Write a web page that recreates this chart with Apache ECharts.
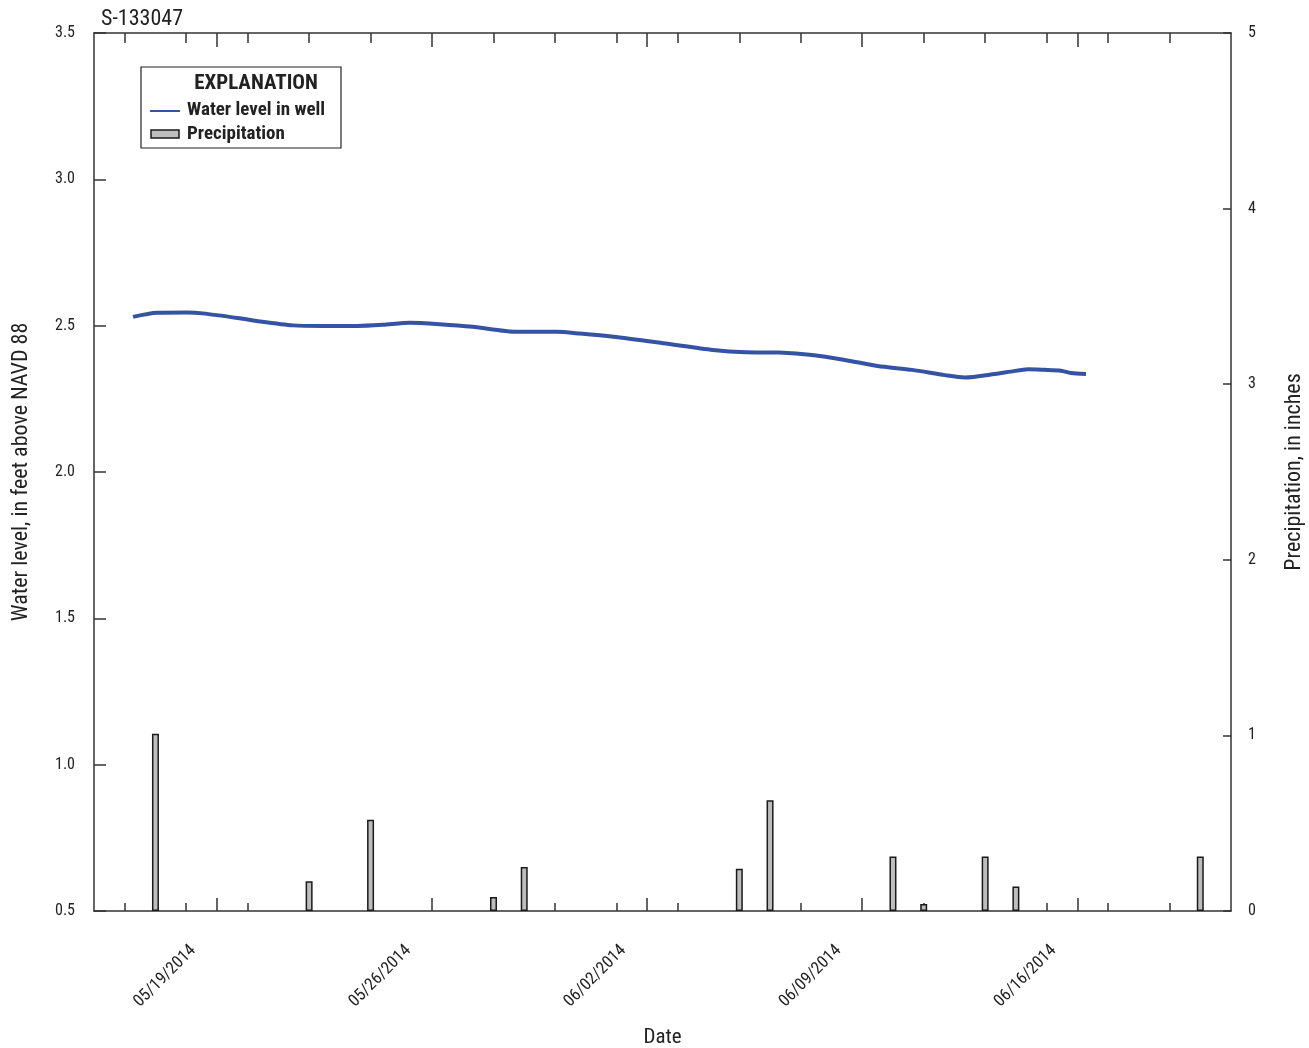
<!DOCTYPE html>
<html><head><meta charset="utf-8">
<script src="https://cdn.jsdelivr.net/npm/echarts@6/dist/echarts.min.js"></script>
<style>html,body{margin:0;padding:0;background:#fff}#c{width:1309px;height:1048px}</style>
</head><body><div id="c"></div>
<script>
const chartTitle = 'S-133047';
const levelTimes = ['2014-05-17 06:30','2014-05-18 01:00','2014-05-19 00:40','2014-05-19 13:00','2014-05-20 18:00','2014-05-21 07:00','2014-05-22 11:30','2014-05-23 11:00','2014-05-24 13:30','2014-05-25 09:30','2014-05-26 06:45','2014-05-27 06:00','2014-05-28 08:00','2014-05-29 18:00','2014-05-31 01:30','2014-05-31 19:30','2014-06-01 21:30','2014-06-03 12:30','2014-06-05 03:30','2014-06-06 05:00','2014-06-07 07:00','2014-06-08 08:45','2014-06-09 10:30','2014-06-10 12:00','2014-06-11 15:00','2014-06-12 16:30','2014-06-13 08:00','2014-06-14 07:45','2014-06-14 20:00','2014-06-15 09:30','2014-06-15 22:00','2014-06-16 11:15','2014-06-16 19:00','2014-06-17 06:45'];
const levelValues = [2.530,2.544,2.545,2.542,2.525,2.516,2.501,2.499,2.499,2.503,2.510,2.505,2.496,2.479,2.479,2.473,2.462,2.440,2.417,2.409,2.408,2.400,2.383,2.362,2.349,2.331,2.323,2.335,2.343,2.351,2.349,2.346,2.338,2.335];
const precipDates = ['2014-05-18','2014-05-23','2014-05-25','2014-05-29','2014-05-30','2014-06-06','2014-06-07','2014-06-11','2014-06-12','2014-06-14','2014-06-15','2014-06-21'];
const precipValues = [1.01,0.17,0.52,0.08,0.25,0.24,0.63,0.31,0.04,0.31,0.14,0.31];
const xStart = '2014-05-16', xEnd = '2014-06-22';
const dateLabels = ['2014-05-19','2014-05-26','2014-06-02','2014-06-09','2014-06-16'];
const minorTickDates = ['2014-05-17','2014-05-19','2014-05-21','2014-05-23','2014-05-25','2014-05-27','2014-05-29','2014-05-31','2014-06-02','2014-06-04','2014-06-06','2014-06-08','2014-06-10','2014-06-12','2014-06-14','2014-06-16','2014-06-18','2014-06-20'];
const majorTickDates = ['2014-05-20','2014-05-27','2014-06-03','2014-06-10','2014-06-17'];
const levelAxis = {min: 0.5, max: 3.5, interval: 0.5};
const precipAxis = {min: 0, max: 5, interval: 1};
const legendTitle = 'EXPLANATION';
const legendNames = ['Water level in well', 'Precipitation'];

function ts(s) {
  const [d, h] = s.split(' ');
  const [Y, M, D] = d.split('-').map(Number);
  const [hh, mm] = (h || '00:00').split(':').map(Number);
  return Date.UTC(Y, M - 1, D, hh, mm);
}
function fmt(v) {
  const d = new Date(v);
  const p = n => String(n).padStart(2, '0');
  return p(d.getUTCMonth() + 1) + '/' + p(d.getUTCDate()) + '/' + d.getUTCFullYear();
}
const FONT = "'Liberation Sans Narrow','Arial Narrow','Roboto Condensed','Liberation Sans',sans-serif";
const AX = '#333';
const LINE_COLOR = '#3553a5';
const xMin = ts(xStart), xMax = ts(xEnd);

const baseX = {type: 'value', min: xMin, max: xMax, splitLine: {show: false}};
const chart = echarts.init(document.getElementById('c'), null, {renderer: 'canvas'});
chart.setOption({
  animation: false,
  backgroundColor: '#fff',
  title: {text: chartTitle, left: 96, top: 3, textStyle: {fontFamily: FONT, fontSize: 22, fontWeight: 'normal', color: '#222'}},
  grid: {left: 94, right: 78, top: 33, bottom: 137, containLabel: false, outerBoundsMode: 'none'},
  xAxis: [
    Object.assign({}, baseX, {
      position: 'bottom',
      name: 'Date', nameLocation: 'middle', nameGap: 116,
      nameTextStyle: {fontFamily: FONT, fontSize: 21, color: '#222'},
      axisLine: {show: true, lineStyle: {color: AX, width: 1.5}},
      axisTick: {show: true, inside: true, length: 8, lineStyle: {color: AX, width: 1.5}, customValues: minorTickDates.map(ts)},
      axisLabel: {show: true, rotate: 45, margin: 44, padding: [0, -10, 0, 0], fontFamily: FONT, fontSize: 17, color: '#222', customValues: dateLabels.map(ts), formatter: v => fmt(v)}
    }),
    Object.assign({}, baseX, {
      position: 'bottom',
      axisLine: {show: false},
      axisTick: {show: true, inside: true, length: 13, lineStyle: {color: AX, width: 1.5}, customValues: majorTickDates.map(ts)},
      axisLabel: {show: false}
    }),
    Object.assign({}, baseX, {
      position: 'top',
      axisLine: {show: true, lineStyle: {color: AX, width: 1.5}},
      axisTick: {show: true, inside: true, length: 10, lineStyle: {color: AX, width: 1.5}, customValues: minorTickDates.map(ts)},
      axisLabel: {show: false}
    }),
    Object.assign({}, baseX, {
      position: 'top',
      axisLine: {show: false},
      axisTick: {show: true, inside: true, length: 14, lineStyle: {color: AX, width: 1.5}, customValues: majorTickDates.map(ts)},
      axisLabel: {show: false}
    })
  ],
  yAxis: [
    {
      type: 'value', position: 'left', min: levelAxis.min, max: levelAxis.max, interval: levelAxis.interval,
      name: 'Water level, in feet above NAVD 88', nameLocation: 'middle', nameGap: 62, nameRotate: 90,
      nameTextStyle: {fontFamily: FONT, fontSize: 22, color: '#222'},
      axisLine: {show: true, lineStyle: {color: AX, width: 1.5}},
      axisTick: {show: true, inside: true, length: 12, lineStyle: {color: AX, width: 1.5}},
      axisLabel: {margin: 19, fontFamily: FONT, fontSize: 16, color: '#222', formatter: v => v.toFixed(1)},
      splitLine: {show: false}
    },
    {
      type: 'value', position: 'right', min: precipAxis.min, max: precipAxis.max, interval: precipAxis.interval,
      name: 'Precipitation, in inches', nameLocation: 'middle', nameGap: 52, nameRotate: 90,
      nameTextStyle: {fontFamily: FONT, fontSize: 22, color: '#222'},
      axisLine: {show: true, lineStyle: {color: AX, width: 1.5}},
      axisTick: {show: true, inside: true, length: 8, lineStyle: {color: AX, width: 1.5}},
      axisLabel: {margin: 17, fontFamily: FONT, fontSize: 16, color: '#222'},
      splitLine: {show: false}
    }
  ],
  graphic: [
    {type: 'rect', shape: {x: 141, y: 67, width: 200, height: 81}, style: {fill: '#fff', stroke: '#222', lineWidth: 1.2}, z: 10},
    {type: 'text', x: 256, y: 84, style: {text: legendTitle, align: 'center', verticalAlign: 'middle', font: "bold 21px " + FONT, fill: '#222'}, z: 11},
    {type: 'line', shape: {x1: 150, y1: 111, x2: 180, y2: 111}, style: {stroke: LINE_COLOR, lineWidth: 2}, z: 11},
    {type: 'text', x: 187, y: 110, style: {text: legendNames[0], align: 'left', verticalAlign: 'middle', font: "bold 19px " + FONT, fill: '#222'}, z: 11},
    {type: 'rect', shape: {x: 151, y: 130, width: 28, height: 8}, style: {fill: '#bdbdbd', stroke: '#1a1a1a', lineWidth: 1.5}, z: 11},
    {type: 'text', x: 187, y: 134, style: {text: legendNames[1], align: 'left', verticalAlign: 'middle', font: "bold 19px " + FONT, fill: '#222'}, z: 11}
  ],
  series: [
    {
      name: legendNames[1], type: 'bar', xAxisIndex: 0, yAxisIndex: 1, barWidth: 7,
      itemStyle: {color: '#bdbdbd', borderColor: '#1a1a1a', borderWidth: 1.5},
      data: precipDates.map((d, i) => [ts(d), precipValues[i]])
    },
    {
      name: legendNames[0], type: 'line', xAxisIndex: 0, yAxisIndex: 0, symbol: 'none', smooth: 0.25,
      lineStyle: {color: LINE_COLOR, width: 4},
      itemStyle: {color: LINE_COLOR},
      data: levelTimes.map((t, i) => [ts(t), levelValues[i]]),
      z: 5
    }
  ]
});
</script></body></html>
